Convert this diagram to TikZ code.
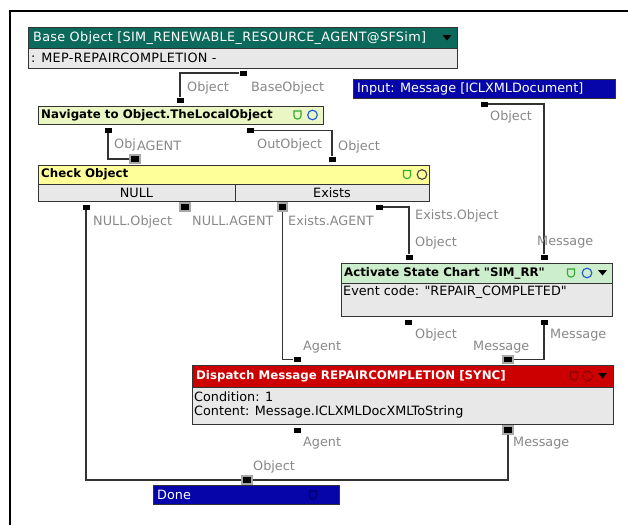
\documentclass[tikz,border=0pt]{standalone}
\usepackage{fontspec}
\setmainfont{DejaVu Sans}
\newfontfamily\widefont[LetterSpace=2.5]{DejaVu Sans}
\newcommand\sq{{\XeTeXglyph\XeTeXcharglyph"22\relax}}
\definecolor{tealhd}{HTML}{0B6A5C}
\definecolor{rowgray}{HTML}{E8E8E8}
\definecolor{navgreen}{HTML}{EAF7C4}
\definecolor{chkyellow}{HTML}{FFFF99}
\definecolor{actgreen}{HTML}{CCEECC}
\definecolor{disred}{HTML}{CC0000}
\definecolor{inblue}{HTML}{0505AA}
\definecolor{boxline}{HTML}{333333}
\definecolor{lblgray}{HTML}{888888}
\definecolor{icongreen}{HTML}{33AA33}
\definecolor{iconblue}{HTML}{2255DD}
\definecolor{icondark}{HTML}{444444}
\definecolor{iconred}{HTML}{880000}
\definecolor{iconnavy}{HTML}{000066}
\definecolor{portframe}{HTML}{A8A8A8}
\newcommand\shieldat[3]{\draw[#3, line width=1.1pt] (#1-3.5,#2-4) -- (#1+3.5,#2-4) [rounded corners=3] -- (#1+3.5,#2+4) -- (#1-3.5,#2+4) [sharp corners] -- cycle;}
\newcommand\circat[3]{\draw[#3, line width=1.1pt] (#1,#2) circle[radius=4.8];}
\newcommand\triat[3]{\fill[#3] (#1-4.5,#2-2.5) -- (#1+4.5,#2-2.5) -- (#1,#2+3) -- cycle;}
\newcommand\regtxt{\fontsize{12.8}{14}\selectfont}
\newcommand\boldtxt{\fontsize{11.8}{14}\selectfont\bfseries}
\begin{document}
\begin{tikzpicture}[x=1pt,y=-1pt,
  box/.style={draw=boxline, line width=1.3pt, inner sep=0, anchor=north west, rectangle},
  txt/.style={anchor=west, inner sep=0, font=\regtxt},
  btxt/.style={anchor=west, inner sep=0, font=\boldtxt},
  lbl/.style={anchor=west, inner sep=0, font=\regtxt, text=lblgray},
  port/.style={rectangle, fill=black, minimum width=7, minimum height=5, inner sep=0},
  fport/.style={rectangle, fill=black, draw=portframe, line width=1.6pt, minimum width=9.5, minimum height=7.5, inner sep=0},
  wire/.style={draw=boxline, line width=1.3pt}]
\useasboundingbox (0,0) rectangle (628,525);
\fill[white] (0,0) rectangle (628,525);
% frame
\draw[black, line width=2pt] (10,525) -- (10,11) -- (628,11);

% ---- boxes ----
\node[box, fill=tealhd, minimum width=429, minimum height=21] (baseH) at (28,27) {};
\node[box, fill=rowgray, minimum width=429, minimum height=20] (baseR) at (28,48) {};
\node[txt, text=white, font=\regtxt\widefont] (baseT) at (33,38) {Base Object [SIM\_RENEWABLE\_RESOURCE\_AGENT@SFSim]};
\node[txt, font=\regtxt\widefont] (baseRT) at (31,57.5) {: MEP-REPAIRCOMPLETION -};
\triat{447}{37.5}{black}

\node[box, fill=navgreen, minimum width=285, minimum height=18] (nav) at (38,106) {};
\node[btxt] (navT) at (41,115) {Navigate to Object.TheLocalObject};
\shieldat{297.5}{115}{icongreen}
\circat{312.5}{115}{iconblue}

\node[box, fill=chkyellow, minimum width=391, minimum height=19] (chkH) at (38,165) {};
\node[box, fill=rowgray, minimum width=197, minimum height=17] (chkL) at (38,184) {};
\node[box, fill=rowgray, minimum width=194, minimum height=17] (chkR) at (235,184) {};
\node[btxt] (chkT) at (41,174.5) {Check Object};
\node[inner sep=0, font=\regtxt] (nullT) at (136.5,192.5) {NULL};
\node[inner sep=0, font=\regtxt] (exT) at (332,192.5) {Exists};
\shieldat{407}{174.5}{icongreen}
\circat{422}{174.5}{icondark}

\node[box, fill=inblue, minimum width=262, minimum height=19] (inp) at (353,79) {};
\node[txt, text=white] (inpT) at (357,88.5) {Input: Message [ICLXMLDocument]};

\node[box, fill=actgreen, minimum width=271, minimum height=20] (actH) at (341,263) {};
\node[box, fill=rowgray, minimum width=271, minimum height=33] (actB) at (341,283) {};
\node[btxt] (actT) at (344,273) {Activate State Chart \sq SIM\_RR\sq};
\node[txt] (actBT) at (343,292) {Event code: \sq REPAIR\_COMPLETED\sq};
\shieldat{571}{273}{icongreen}
\circat{587}{273}{iconblue}
\triat{602.5}{272.5}{black}

\node[box, fill=disred, minimum width=421, minimum height=22] (disH) at (192,365) {};
\node[box, fill=rowgray, minimum width=421, minimum height=37] (disB) at (192,387) {};
\node[btxt, text=white] (disT) at (196,376) {Dispatch Message REPAIRCOMPLETION [SYNC]};
\node[txt] (disB1) at (194,396.5) {Condition: 1};
\node[txt] (disB2) at (194,411.5) {Content: Message.ICLXMLDocXMLToString};
\shieldat{574}{376}{iconred}
\circat{587.5}{376}{iconred}
\triat{602.5}{375.5}{black}

\node[box, fill=inblue, minimum width=186, minimum height=19] (done) at (153,485) {};
\node[txt, text=white] (doneT) at (157,495) {Done};
\shieldat{313}{495}{iconnavy}

% ---- ports ----
\node[port] (pBase) at (243,73) {};
\node[port] (pNavIn) at (180,100) {};
\node[port] (pNavA) at (108,130.5) {};
\node[port] (pNavB) at (250,130.5) {};
\node[fport] (pChkIn1) at (135,159) {};
\node[port] (pChkIn2) at (332,159) {};
\node[port] (pNullO) at (86,207) {};
\node[fport] (pNullA) at (185,207) {};
\node[fport] (pExA) at (282.5,207) {};
\node[port] (pExO) at (379,207) {};
\node[port] (pInp) at (484,104) {};
\node[port] (pActIn1) at (409,257) {};
\node[port] (pActIn2) at (544,257) {};
\node[port] (pActO1) at (408,322) {};
\node[port] (pActO2) at (544,322) {};
\node[port] (pDisIn1) at (297,359.5) {};
\node[fport] (pDisIn2) at (508,359.5) {};
\node[port] (pDisO1) at (297,430) {};
\node[fport] (pDisO2) at (508,430) {};
\node[fport] (pDone) at (247,480) {};

% ---- wires ----
\draw[wire] (pBase) -| (pNavIn);
\draw[wire] (pNavA) |- (pChkIn1);
\draw[wire] (pNavB) -| (pChkIn2);
\draw[wire] (pExO) -| (pActIn1);
\draw[wire] (pInp) -| (pActIn2);
\draw[wire] (pActO2) |- (pDisIn2);
\draw[wire] (pExA) |- (pDisIn1);
\draw[wire] (pNullO) |- (pDone);
\draw[wire] (pDisO2) |- (pDone);

% ---- labels ----
\node[lbl] (l1) at (187,87.5) {Object};
\node[lbl] (l2) at (251,87.5) {BaseObject};
\node[lbl] (l3) at (114,145) {Obj};
\node[lbl] (l4) at (137,146) {AGENT};
\node[lbl] (l5) at (257,145) {OutObject};
\node[lbl] (l6) at (338,146.5) {Object};
\node[lbl] (l7) at (490,117) {Object};
\node[lbl] (l8) at (93,221.5) {NULL.Object};
\node[lbl] (l9) at (192,220.5) {NULL.AGENT};
\node[lbl] (l10) at (288,220.5) {Exists.AGENT};
\node[lbl] (l11) at (415,216) {Exists.Object};
\node[lbl] (l12) at (415,243) {Object};
\node[lbl] (l13) at (537,242) {Message};
\node[lbl] (l14) at (415,335) {Object};
\node[lbl] (l15) at (550,335) {Message};
\node[lbl] (l16) at (473,347) {Message};
\node[lbl] (l17) at (303,347) {Agent};
\node[lbl] (l18) at (303,443) {Agent};
\node[lbl] (l19) at (513,443) {Message};
\node[lbl] (l20) at (253,467) {Object};
\end{tikzpicture}
\end{document}
